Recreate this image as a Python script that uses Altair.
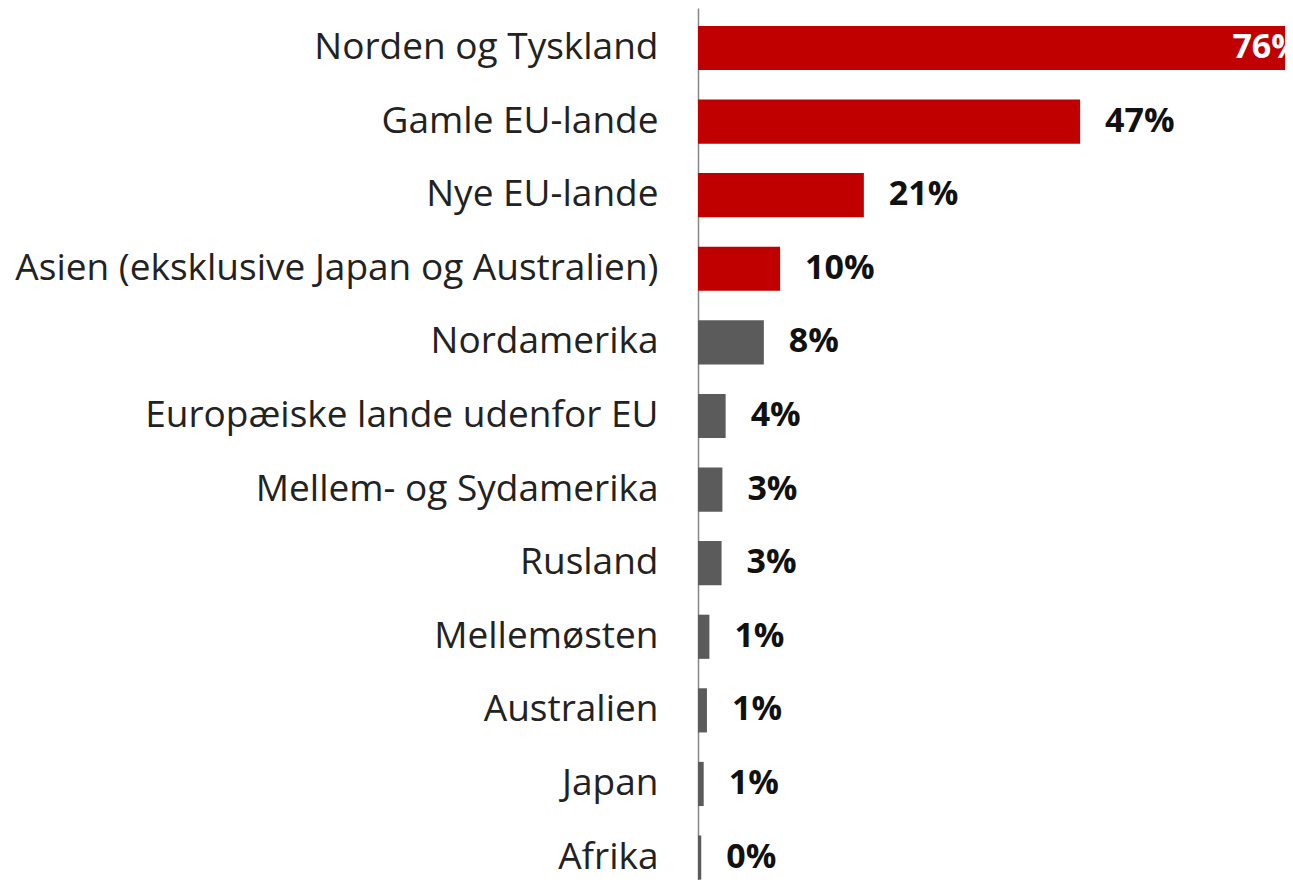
import altair as alt
import pandas as pd

categories = [
    "Norden og Tyskland",
    "Gamle EU-lande",
    "Nye EU-lande",
    "Asien (eksklusive Japan og Australien)",
    "Nordamerika",
    "Europæiske lande udenfor EU",
    "Mellem- og Sydamerika",
    "Rusland",
    "Mellemøsten",
    "Australien",
    "Japan",
    "Afrika",
]
values = [76, 47, 20.4, 10.1, 8.1, 3.4, 3.0, 2.9, 1.4, 1.1, 0.7, 0.4]
value_labels = ["76%", "47%", "21%", "10%", "8%", "4%", "3%", "3%", "1%", "1%", "1%", "0%"]
groups = ["red"] * 4 + ["grey"] * 8

df = pd.DataFrame({
    "cat": categories,
    "val": values,
    "lab": value_labels,
    "grp": groups,
    "inside": [True] + [False] * 11,
})

FONT = "Open Sans"
XMAX = 72.2

y_enc = alt.Y(
    "cat:N",
    sort=categories,
    title=None,
    scale=alt.Scale(paddingInner=0.4, paddingOuter=0.124, align=0.98),
    axis=alt.Axis(
        labelFont=FONT,
        labelFontSize=37,
        labelColor="#222222",
        labelPadding=40,
        ticks=False,
        domainColor="#868686",
        domainWidth=1.5,
        minExtent=690,
        maxExtent=690,
        labelLimit=700,
    ),
)
x_enc = alt.X(
    "val:Q",
    title=None,
    scale=alt.Scale(domain=[0, XMAX], nice=False, clamp=False),
    axis=None,
)

base = alt.Chart(df)

bars = base.mark_bar(clip=True).encode(
    x=x_enc,
    y=y_enc,
    color=alt.Color(
        "grp:N",
        scale=alt.Scale(domain=["red", "grey"], range=["#c00000", "#5b5b5b"]),
        legend=None,
    ),
)

labels_out = base.transform_filter("!datum.inside").mark_text(
    align="left", baseline="middle", dx=25, font=FONT, fontSize=34,
    fontWeight="bold", color="#111111",
).encode(x=x_enc, y=y_enc, text="lab:N")

labels_in = base.transform_filter("datum.inside").mark_text(
    align="right", baseline="middle", dx=-14, font=FONT, fontSize=34,
    fontWeight="bold", color="white", clip=True,
).encode(x=x_enc, y=y_enc, text="lab:N")

chart = (
    alt.layer(bars, labels_out, labels_in)
    .properties(width=587, height=872, padding=0)
    .configure_view(stroke=None)
)

chart.save("out.html", embed_options={"renderer": "svg", "actions": False})
